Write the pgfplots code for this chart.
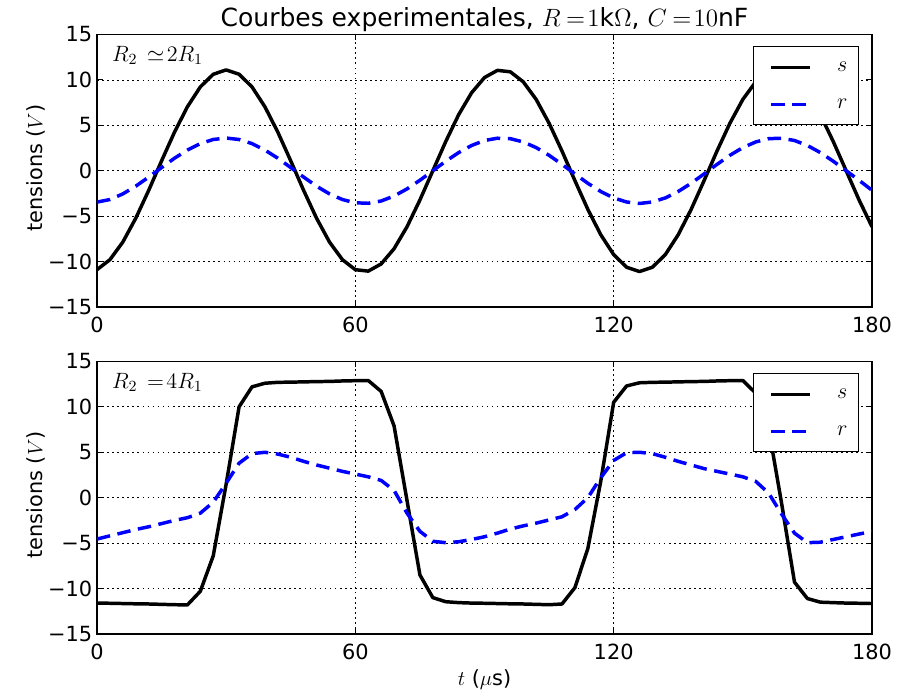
\RequirePackage{fix-cm}
\documentclass[border=0pt]{standalone}
\usepackage{fontspec}
\setmainfont{DejaVu Sans}
\usepackage{pgfplots}
\usepackage{pgfplotstable}
\pgfplotsset{compat=1.18}

% R2 ~ 2R1
\pgfplotstableread{
t s r
0 -10.89 -3.45
3 -9.79 -3.17
6 -7.85 -2.55
9 -5.23 -1.70
12 -2.17 -0.70
15 1.09 0.35
18 4.25 1.38
21 7.04 2.28
24 9.23 2.99
27 10.62 3.44
30 11.10 3.60
33 10.62 3.44
36 9.23 2.99
39 7.04 2.28
42 4.25 1.38
45 1.09 0.35
48 -2.17 -0.70
51 -5.23 -1.70
54 -7.85 -2.55
57 -9.79 -3.17
60 -10.89 -3.53
63 -11.05 -3.58
66 -10.26 -3.33
69 -8.58 -2.78
72 -6.17 -2.00
75 -3.22 -1.05
78 0 0
81 3.22 1.05
84 6.17 2.00
87 8.58 2.78
90 10.26 3.33
93 11.05 3.58
96 10.89 3.53
99 9.79 3.17
102 7.85 2.55
105 5.23 1.70
108 2.17 0.70
111 -1.09 -0.35
114 -4.25 -1.38
117 -7.04 -2.28
120 -9.23 -2.99
123 -10.62 -3.44
126 -11.10 -3.60
129 -10.62 -3.44
132 -9.23 -2.99
135 -7.04 -2.28
138 -4.25 -1.38
141 -1.09 -0.35
144 2.17 0.70
147 5.23 1.70
150 7.85 2.55
153 9.79 3.17
156 10.89 3.53
159 11.05 3.58
162 10.26 3.33
165 8.58 2.78
168 6.17 2.00
171 3.22 1.05
174 0 0
177 -3.22 -1.05
180 -6.17 -2.15
}\topdata

% R2 = 4R1
\pgfplotstableread{
t s r
0 -11.60 -4.55
3 -11.62 -4.20
6 -11.65 -3.85
9 -11.68 -3.50
12 -11.70 -3.20
15 -11.74 -2.85
18 -11.78 -2.50
21 -11.80 -2.20
24 -10.30 -1.70
27 -6.40 -0.50
30 1.50 1.60
33 10.00 3.80
36 12.20 4.85
39 12.60 5.00
42 12.70 4.80
45 12.72 4.45
48 12.75 4.00
51 12.78 3.60
54 12.80 3.25
57 12.85 2.90
60 12.88 2.60
63 12.90 2.30
66 11.70 1.90
69 7.90 0.80
72 -0.30 -1.70
75 -8.50 -3.70
78 -11.00 -4.80
81 -11.45 -4.95
84 -11.55 -4.85
87 -11.60 -4.60
90 -11.62 -4.30
93 -11.65 -3.90
96 -11.68 -3.45
99 -11.70 -3.10
102 -11.74 -2.80
105 -11.78 -2.45
108 -11.70 -2.10
111 -9.90 -1.30
114 -5.60 0.00
117 1.80 2.20
120 10.50 4.10
123 12.30 4.95
126 12.65 5.00
129 12.70 4.85
132 12.72 4.45
135 12.75 4.00
138 12.78 3.60
141 12.80 3.20
144 12.85 2.90
147 12.88 2.60
150 12.90 2.30
153 11.50 1.80
156 7.60 0.50
159 -0.60 -1.80
162 -9.30 -3.90
165 -11.10 -4.95
168 -11.50 -4.90
171 -11.55 -4.60
174 -11.60 -4.30
177 -11.62 -4.00
180 -11.65 -3.70
}\botdata

\pgfplotsset{
  tensax/.style={
    scale only axis,
    width=489.96pt, height=172.3pt,
    xmin=0, xmax=180, ymin=-15, ymax=15,
    xtick={0,60,120,180},
    xticklabels={0,60,120,180},
    ytick={-15,-10,-5,0,5,10,15},
    yticklabels={−15,−10,−5,0,5,10,15},
    grid=major,
    major grid style={black, line width=0.5pt, dash pattern=on 1pt off 2.2pt},
    tick align=inside,
    major tick length=3.5pt,
    every tick/.style={black, line width=0.6pt},
    axis line style={line width=0.8pt},
    ticklabel style={font=\fontsize{13.2}{15}\selectfont},
    yticklabel style={inner xsep=0pt, xshift=-2.8pt},
    xticklabel style={inner ysep=0pt, yshift=-6pt},
    ylabel={tensions ($V$)},
    ylabel style={at={(axis description cs:-0.079,0.51)}, anchor=center,
      font=\fontsize{13.2}{15}\selectfont},
    legend image code/.code={
      \path (0pt,0pt);
      \draw[##1] (10.1pt,0pt) -- (34.8pt,0pt);
    },
    legend style={at={(rel axis cs:1,1)}, anchor=north east,
      xshift=-8.2pt, yshift=-7.6pt, draw=black, line width=0.6pt,
      inner xsep=0pt, inner ysep=1.2pt, column sep=0pt, row sep=0pt,
      font=\fontsize{14}{16}\selectfont,
      nodes={inner sep=0pt, text height=14.3pt, text depth=9.1pt}},
    legend cell align=left,
  },
  sline/.style={black, line width=2.2pt, line join=round},
  rline/.style={blue, line width=2.2pt, dash pattern=on 8.5pt off 4.8pt},
}

\begin{document}
\begin{tikzpicture}
\useasboundingbox (-61.32pt,-35.40pt) rectangle (514.62pt,400.80pt);

\begin{axis}[tensax, at={(0pt,206.7pt)}, anchor=south west,
  title={Courbes experimentales, $R\mskip4mu{=}\mskip1.5mu 1$k$\Omega$, $C\mskip4mu{=}\mskip1.5mu 10$nF},
  title style={at={(0.5,1)}, anchor=base, inner sep=0pt, yshift=-0.7pt,
    font=\fontsize{15.8}{18}\selectfont},
  ]
  \addplot[sline] table[x=t, y=s] {\topdata};
  \addlegendentry{\hspace*{15.8pt}$s$\hspace*{7pt}}
  \addplot[rline] table[x=t, y=r] {\topdata};
  \addlegendentry{\hspace*{15.8pt}$r$\hspace*{7pt}}
  \node[anchor=base west, inner sep=0pt, font=\fontsize{14}{16}\selectfont]
    at (rel axis cs:0.019,0.902) {$R_2\mskip8mu{\simeq}\mskip2mu 2R_1$};
\end{axis}

\begin{axis}[tensax, at={(0pt,0pt)}, anchor=south west,
  xlabel={$t$ ($\mu$s)},
  xlabel style={at={(axis description cs:0.5,-0.1686)}, anchor=center,
    font=\fontsize{13.2}{15}\selectfont},
  ]
  \addplot[sline] table[x=t, y=s] {\botdata};
  \addlegendentry{\hspace*{15.8pt}$s$\hspace*{7pt}}
  \addplot[rline] table[x=t, y=r] {\botdata};
  \addlegendentry{\hspace*{15.8pt}$r$\hspace*{7pt}}
  \node[anchor=base west, inner sep=0pt, font=\fontsize{14}{16}\selectfont]
    at (rel axis cs:0.019,0.902) {$R_2\mskip8mu{=}\mskip2mu 4R_1$};
\end{axis}
\end{tikzpicture}
\end{document}
